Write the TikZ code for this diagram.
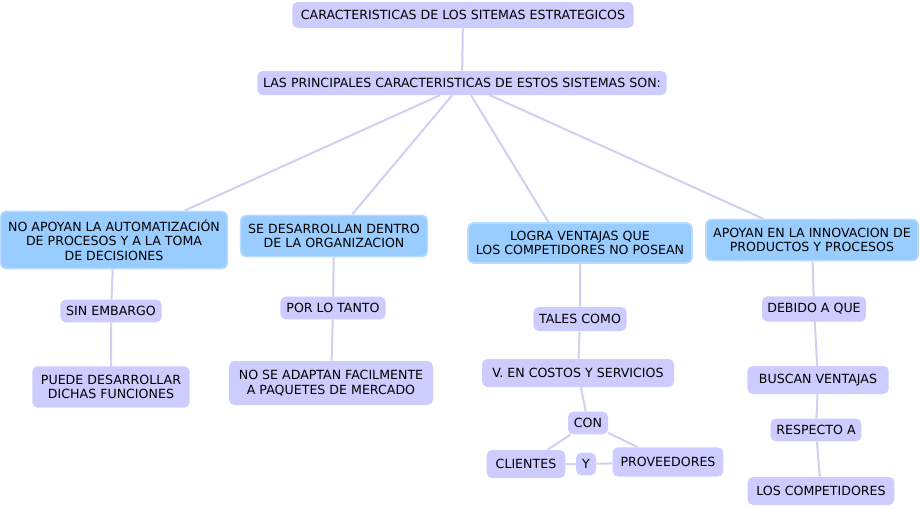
\documentclass[tikz,border=0pt]{standalone}
\usepackage{fontspec}
\setmainfont{DejaVu Sans}
\usetikzlibrary{calc,backgrounds}
\definecolor{lila}{HTML}{CCCCFF}
\definecolor{celeste}{HTML}{99CCFF}
\definecolor{celesteb}{HTML}{B8DCFF}
\definecolor{linea}{HTML}{D0D0F0}
\begin{document}
\begin{tikzpicture}[x=0.75pt,y=-0.75pt,
	box/.style={fill=lila,rounded corners=4pt,align=center,inner sep=0pt,font=\fontsize{9.45}{11}\selectfont},
	keybox/.style={box,fill=celeste,draw=celesteb,line width=1.2pt},
	link/.style={draw=linea,line width=1.5pt}]
	\useasboundingbox (0,0) rectangle (921,507);
	% nivel superior
	\node[box,minimum width=256pt,minimum height=19.5pt] (title) at (463,15) {CARACTERISTICAS DE LOS SITEMAS ESTRATEGICOS};
	\node[box,minimum width=307pt,minimum height=18pt] (main) at (462,83) {LAS PRINCIPALES CARACTERISTICAS DE ESTOS SISTEMAS SON:};
	% ramas
	\node[keybox,minimum width=170pt,minimum height=43pt] (auto) at (114,240) {NO APOYAN LA AUTOMATIZACIÓN\\DE PROCESOS Y A LA TOMA\\DE DECISIONES};
	\node[keybox,minimum width=140pt,minimum height=31pt] (dentro) at (334,236) {SE DESARROLLAN DENTRO\\DE LA ORGANIZACION};
	\node[keybox,minimum width=168pt,minimum height=30pt] (ventaja) at (580,243) {LOGRA VENTAJAS QUE\\LOS COMPETIDORES NO POSEAN};
	\node[keybox,minimum width=159pt,minimum height=31pt] (innov) at (812,240) {APOYAN EN LA INNOVACION DE\\PRODUCTOS Y PROCESOS};
	% rama 1
	\node[box,minimum width=76pt,minimum height=17pt] (sinemb) at (111,311) {SIN EMBARGO};
	\node[box,minimum width=118pt,minimum height=31pt] (puede) at (111,387) {PUEDE DESARROLLAR\\DICHAS FUNCIONES};
	% rama 2
	\node[box,minimum width=79pt,minimum height=17pt] (portanto) at (333,308) {POR LO TANTO};
	\node[box,minimum width=153pt,minimum height=33pt] (adaptan) at (331,383) {NO SE ADAPTAN FACILMENTE\\A PAQUETES DE MERCADO};
	% rama 3
	\node[box,minimum width=70pt,minimum height=18pt] (tales) at (580,319) {TALES COMO};
	\node[box,minimum width=144pt,minimum height=21pt] (costos) at (578,373) {V. EN COSTOS Y SERVICIOS};
	\node[box,minimum width=30pt,minimum height=17pt] (con) at (588,423) {CON};
	\node[box,minimum width=59pt,minimum height=21pt] (clientes) at (526,464) {CLIENTES};
	\node[box,minimum width=15pt,minimum height=17pt] (y) at (586,464) {Y};
	\node[box,minimum width=83pt,minimum height=22pt] (prov) at (668,462) {PROVEEDORES};
	% rama 4
	\node[box,minimum width=78pt,minimum height=19pt] (debido) at (814,309) {DEBIDO A QUE};
	\node[box,minimum width=106pt,minimum height=21pt] (buscan) at (818,380) {BUSCAN VENTAJAS};
	\node[box,minimum width=68pt,minimum height=17pt] (respecto) at (816,430) {RESPECTO A};
	\node[box,minimum width=110pt,minimum height=21pt] (compet) at (821,491) {LOS COMPETIDORES};
	% conectores
	\begin{scope}[on background layer]
	\draw[link] (title) -- (main);
	\draw[link] ($(main.south west)!0.446!(main.south east)$) -- ($(auto.north west)!0.81!(auto.north east)$);
	\draw[link] ($(main.south west)!0.476!(main.south east)$) -- ($(dentro.north west)!0.596!(dentro.north east)$);
	\draw[link] ($(main.south west)!0.522!(main.south east)$) -- ($(ventaja.north west)!0.36!(ventaja.north east)$);
	\draw[link] ($(main.south west)!0.568!(main.south east)$) -- ($(innov.north west)!0.27!(innov.north east)$);
	\draw[link] (auto) -- (sinemb) -- (puede);
	\draw[link] (dentro) -- (portanto) -- (adaptan);
	\draw[link] (ventaja) -- (tales) -- (costos) -- (con);
	\draw[link] (con) -- (clientes);
	\draw[link] (con) -- (prov);
	\draw[link] (clientes) -- (y) -- (prov);
	\draw[link] (innov) -- (debido) -- (buscan) -- (respecto) -- (compet);
	\end{scope}
\end{tikzpicture}
\end{document}
